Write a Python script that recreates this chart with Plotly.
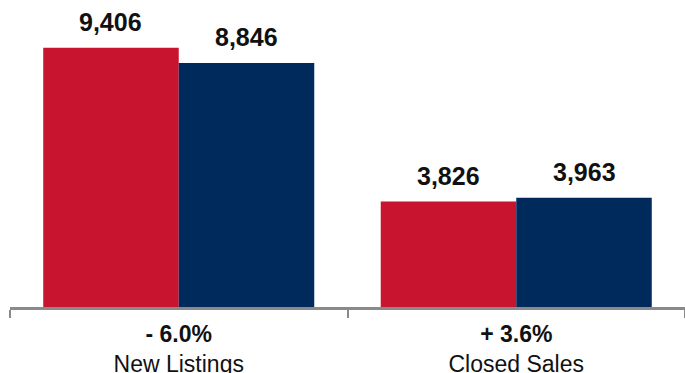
import plotly.graph_objects as go

categories = ["New Listings", "Closed Sales"]
changes = ["- 6.0%", "+ 3.6%"]
prior_year = [9406, 3826]
current_year = [8846, 3963]

RED = "#C8142F"
NAVY = "#002A5C"

W, H = 685, 373
M = {"l": 10, "r": 0, "t": 0, "b": 66}
BARGAP = 0.197

ticktext = [
    f"<span style='font-size:23px'><b>{c}</b></span><br>{name}"
    for c, name in zip(changes, categories)
]

fig = go.Figure()
series = [(prior_year, RED, "Prior Year"), (current_year, NAVY, "Current Year")]
for vals, color, name in series:
    fig.add_trace(go.Bar(
        x=categories,
        y=vals,
        name=name,
        marker={"color": color, "line": {"width": 0}},
        hoverinfo="skip",
    ))

# value labels above each bar
cat_px = (W - M["l"] - M["r"]) / len(categories)
bar_px = cat_px * (1 - BARGAP) / len(series)
for j, (vals, _, _) in enumerate(series):
    for cat, v in zip(categories, vals):
        fig.add_annotation(
            x=cat, y=v, text=f"<b>{v:,}</b>",
            xshift=(j - (len(series) - 1) / 2) * bar_px,
            yanchor="bottom", yshift=10, showarrow=False,
            font={"size": 25, "color": "#111111", "family": "Liberation Sans"},
        )

fig.update_layout(
    width=W,
    height=H,
    barmode="group",
    bargap=BARGAP,
    bargroupgap=0,
    plot_bgcolor="white",
    paper_bgcolor="white",
    font={"family": "Liberation Sans", "color": "#111111", "size": 23},
    margin=M,
    showlegend=False,
    xaxis={
        "tickmode": "array",
        "tickvals": categories,
        "ticktext": ticktext,
        "tickson": "boundaries",
        "ticks": "outside",
        "ticklen": 8,
        "tickwidth": 2,
        "tickcolor": "#8a8a8a",
        "ticklabelstandoff": 4,
        "showline": True,
        "linecolor": "#8a8a8a",
        "linewidth": 3,
        "showgrid": False,
        "automargin": False,
    },
    yaxis={
        "range": [0, 11135],
        "visible": False,
        "showgrid": False,
    },
)

fig.write_html(
    "out.html",
    config={"displayModeBar": False},
    post_script="document.body.style.margin='0';",
)
